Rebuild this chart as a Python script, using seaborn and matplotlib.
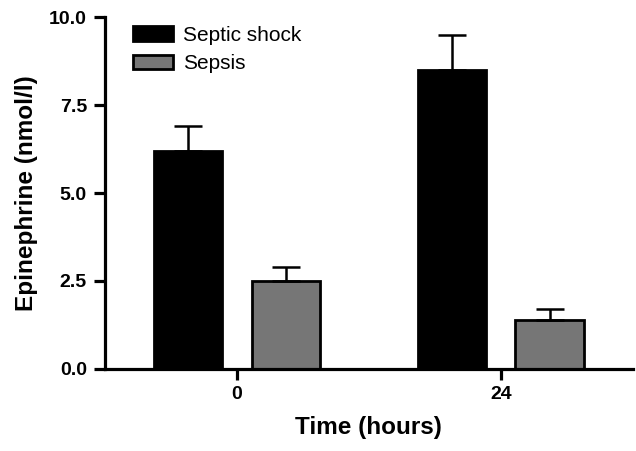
import pandas as pd
import matplotlib
matplotlib.use("Agg")
import matplotlib.pyplot as plt
import seaborn as sns

TIMES = ["0", "24"]
GROUPS = ["Septic shock", "Sepsis"]
SEPTIC_SHOCK_MEAN = [6.2, 8.5]
SEPTIC_SHOCK_SEM = [0.7, 1.0]
SEPSIS_MEAN = [2.5, 1.4]
SEPSIS_SEM = [0.4, 0.3]
Y_TICKS = [0.0, 2.5, 5.0, 7.5, 10.0]

PALETTE = {
    'Septic shock': '#000000',
    'Sepsis': '#767676',
}


def plot_epinephrine():
    df = pd.DataFrame({
        'Time': TIMES * 2,
        'Group': [GROUPS[0]] * 2 + [GROUPS[1]] * 2,
        'Mean': SEPTIC_SHOCK_MEAN + SEPSIS_MEAN,
    })
    sems = [SEPTIC_SHOCK_SEM, SEPSIS_SEM]

    fig, ax = plt.subplots(figsize=(6.36, 4.51), dpi=100)
    fig.subplots_adjust(left=0.165, right=0.995, bottom=0.182, top=0.962)

    sns.barplot(
        data=df, x='Time', y='Mean', hue='Group', hue_order=GROUPS,
        palette=PALETTE, width=0.74, gap=0.3, errorbar=None,
        edgecolor='black', linewidth=2, saturation=1, ax=ax,
    )

    # error bars only upward (mean + SEM)
    for container, sem in zip(ax.containers, sems):
        for bar, s in zip(container, sem):
            xc = bar.get_x() + bar.get_width() / 2
            ax.errorbar(xc, bar.get_height(), yerr=[[0], [s]], fmt='none',
                        ecolor='black', elinewidth=1.8, capsize=10,
                        capthick=1.8, zorder=1)

    ax.set_xlim(-0.5, 1.5)
    ax.set_ylim(0, 10)
    ax.set_yticks(Y_TICKS)
    ax.set_yticklabels([f"{v:.1f}" for v in Y_TICKS])

    for side in ['top', 'right']:
        ax.spines[side].set_visible(False)
    for side in ['left', 'bottom']:
        ax.spines[side].set_linewidth(2.3)
        ax.spines[side].set_color('black')

    ax.tick_params(axis='both', width=2.3, length=8, labelsize=14,
                   color='black', labelcolor='black')
    ax.tick_params(axis='y', pad=5)
    ax.tick_params(axis='x', pad=4)
    for lab in ax.get_xticklabels() + ax.get_yticklabels():
        lab.set_fontweight('bold')

    ax.set_xlabel('Time (hours)', fontsize=17.5, fontweight='bold',
                  labelpad=10, color='black')
    ax.set_ylabel('Epinephrine (nmol/l)', fontsize=17.5, fontweight='bold',
                  labelpad=8, color='black')

    handles, labels = ax.get_legend_handles_labels()
    leg = ax.legend(handles, labels, loc='upper left', bbox_to_anchor=(0.053, 0.975),
                    frameon=False, fontsize=15, handlelength=1.9, handleheight=0.7,
                    handletextpad=0.5, labelspacing=0.45, borderpad=0, borderaxespad=0)
    for t in leg.get_texts():
        t.set_color('black')

    fig.savefig("out.png", dpi=100)
    plt.close(fig)


if __name__ == "__main__":
    sns.set_style("ticks")
    plt.rcParams['font.family'] = ['Liberation Sans', 'DejaVu Sans']
    plot_epinephrine()
